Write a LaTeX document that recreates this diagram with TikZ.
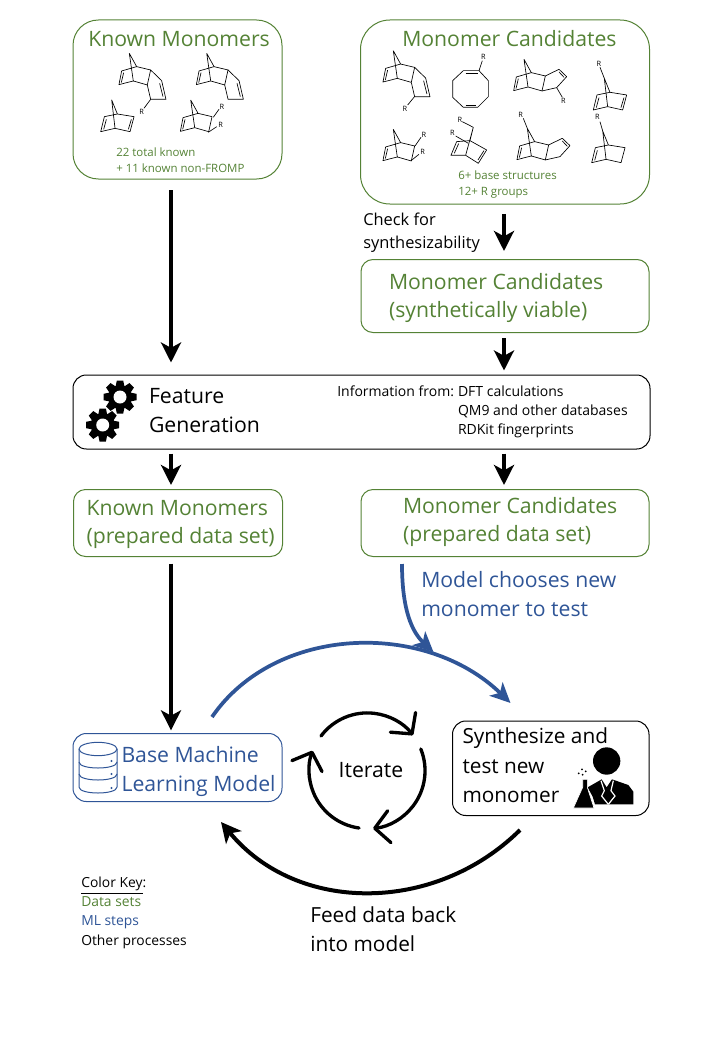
\documentclass[tikz,border=0pt]{standalone}
\usepackage{fontspec}
\setmainfont{Open Sans}
\usetikzlibrary{arrows.meta}

\definecolor{datagreen}{HTML}{548235}
\definecolor{mlblue}{HTML}{2F5597}

\newdimen\pxlen
\pxlen=0.75pt

\tikzset{
  textbox/.style 2 args={minimum width=#1*0.75pt, minimum height=#2*0.75pt,
    inner sep=0pt, anchor=north west},
  bigfont/.style={font=\fontsize{15.9}{21.4}\selectfont},
  smallfont/.style={font=\fontsize{8.6}{12}\selectfont},
  greenbox/.style={draw=datagreen, text=datagreen, line width=0.75pt, rounded corners=9pt, bigfont},
  bluebox/.style={draw=mlblue, text=mlblue, line width=0.75pt, rounded corners=10pt, bigfont},
  blackbox/.style={draw=black, line width=0.75pt, rounded corners=10pt, bigfont},
  plaintext/.style={anchor=base west, inner sep=0pt, align=left},
  bigarrow/.style={line width=3pt, -{Stealth[length=15pt,width=15pt,inset=4pt]}},
  bluearrow/.style={draw=mlblue, line width=2.8pt, -{Stealth[length=15pt,width=14pt,inset=4pt]}},
  looparrow/.style={line width=2.5pt, line cap=round, -{Straight Barb[length=11pt,width=24pt,line width=2.5pt,round]}},
  molbond/.style={line width=0.5pt, line join=round},
  molpic/.style={scale=1/3},
  rlabel/.style={inner sep=0pt, font=\fontsize{5.5}{6}\selectfont},
  nbcore/.pic={
    \draw[molbond] (0,0) -- (22,40) -- (64,50) -- (54,95) -- (12,83) -- (0,0);
    \draw[molbond] (22,40) -- (-23,53) -- (-31,94) -- (12,83);
    \draw[molbond] (-17,58) -- (-24,88);
  },
  hexring/.pic={
    \pic[transform shape] {nbcore};
    \draw[molbond] (64,50) -- (97,82) -- (110,138) -- (64,138) -- (54,95);
    \draw[molbond] (91,90) -- (101,130);
  },
  pentring/.pic={
    \pic[transform shape] {nbcore};
    \draw[molbond] (64,50) -- (105,30) -- (128,52) -- (98,85) -- (54,95);
    \draw[molbond] (105,38) -- (120,54);
  },
  nbdiene/.pic={
    \draw[molbond] (17,42) -- (0,0) -- (10,85);
    \draw[molbond] (-22,50) -- (17,42) -- (67,50) -- (55,95) -- (10,85) -- (-33,95) -- cycle;
    \draw[molbond] (-16,58) -- (-24,88);
    \draw[molbond] (59,58) -- (50,88);
  },
  nbene/.pic={
    \draw[molbond] (17,42) -- (0,0) -- (10,85);
    \draw[molbond] (-22,50) -- (17,42) -- (67,50) -- (55,95) -- (10,85) -- (-33,95) -- cycle;
    \draw[molbond] (-16,58) -- (-24,88);
  },
  nbtilt/.pic={
    \draw[molbond] (0,0) -- (-10,40) -- (40,68) -- (15,108) -- (-23,84) -- (0,0);
    \draw[molbond] (-10,40) -- (-50,43) -- (-67,84) -- (-23,84);
    \draw[molbond] (-44,49) -- (-57,78);
    \draw[molbond] (32,70) -- (14,98);
  },
  codring/.pic={
    \draw[molbond] (-21.5,-55) -- (25.5,-55) -- (53.5,-25) -- (53.5,23) -- (21.5,55)
      -- (-21.5,55) -- (-53.5,25) -- (-53.5,-25) -- cycle;
    \draw[molbond] (-15,-48) -- (22,-48);
    \draw[molbond] (-15,48) -- (17,48);
  },
  gearicon/.pic={
    \fill circle (12);
    \foreach \a in {0,45,...,315} {
      \fill[rotate=\a] (-4.5,10) -- (4.5,10) -- (3.2,16.5) -- (-3.2,16.5) -- cycle;
    }
    \fill[white] circle (6.5);
  },
  dbicon/.pic={
    \draw[mlblue, line width=0.75pt] (-19,-19) arc[start angle=180, end angle=-180, x radius=14.25pt, y radius=5pt];
    \draw[mlblue, line width=0.75pt] (-19,-19) -- (-19,19) .. controls (-19,27) and (19,27) .. (19,19) -- (19,-19);
    \draw[mlblue, line width=0.75pt] (-19,-6) .. controls (-19,2) and (19,2) .. (19,-6);
    \draw[mlblue, line width=0.75pt] (-19,6) .. controls (-19,14) and (19,14) .. (19,6);
    \foreach \y in {-7,6,20} { \fill[mlblue] (13.5,\y) circle (1.2); }
  },
  chemisticon/.pic={
    \fill (920,183) circle (41);
    \fill (863,262) -- (905,238) -- (920,262) -- (936,238) -- (985,255) -- (1000,275)
      -- (1000,313) -- (885,313) -- (878,290) -- cycle;
    \draw[white, line width=0.9pt] (903,242) -- (913,272) -- (905,288) -- (925,313);
    \draw[white, line width=0.9pt] (940,242) -- (933,272) -- (945,288) -- (925,313);
    \fill[draw=white, line width=0.5pt] (848,238) -- (862,238) -- (862,262) -- (882,324)
      -- (820,324) -- (848,262) -- cycle;
    \foreach \p in {(848,224),(857,214),(846,208),(836,220)} { \fill \p circle (3); }
  },
}

\newcommand{\rsub}[4]{\draw[molbond] #1 -- #2; \node[rlabel] (#4) at #3 {R};}
% box width, left padding, drop and the lines of a box, all lengths in pixels
\newcommand{\boxlines}[4]{\makebox[#1\pxlen][l]{\hspace{#2\pxlen}\raisebox{-#3\pxlen}[\height][\depth]{\begin{tabular}{@{}l@{}}#4\end{tabular}}}}

\begin{document}
\begin{tikzpicture}[x=0.75pt,y=-0.75pt]
\useasboundingbox (0,0) rectangle (720,1056);

%boxes
\node[greenbox, textbox={209}{159}, rounded corners=19pt] (known) at (72.5,19.5) {};
\node[greenbox, textbox={289}{184}, rounded corners=22pt] (candidates) at (360,19.5) {};
\node[greenbox, textbox={288}{73}] (viable) at (360.5,259) {\boxlines{288}{28}{2}{Monomer Candidates\\(synthetically viable)}};
\node[blackbox, textbox={577}{74}] (feature) at (72.5,374.5) {\boxlines{577}{76}{0.5}{Feature\\Generation}};
\node[greenbox, textbox={209}{67}] (knownprep) at (73,489) {\boxlines{209}{13}{1}{Known Monomers\\(prepared data set)}};
\node[greenbox, textbox={288}{67}] (candprep) at (360.5,489) {\boxlines{288}{42}{-1}{Monomer Candidates\\(prepared data set)}};
\node[bluebox, textbox={209}{68}] (base) at (72.5,733) {\boxlines{209}{48.5}{4}{Base Machine\\Learning Model}};
\node[blackbox, textbox={196.5}{94.5}, font=\fontsize{15.6}{22}\selectfont] (synth) at (452,720.5) {\boxlines{196.5}{10}{-1}{Synthesize and\\test new\\monomer}};

%titles and notes
\node[plaintext, bigfont, text=datagreen] (knowntitle) at (88,47) {Known Monomers};
\node[plaintext, bigfont, text=datagreen] (candtitle) at (402,47) {Monomer Candidates};
\node[plaintext, smallfont, text=datagreen] (knownnote) at (116,172) {22 total known\\+ 11 known non-FROMP};
\node[plaintext, smallfont, text=datagreen] (candnote) at (458,195) {6+ base structures\\12+ R groups};
\node[plaintext, font=\fontsize{12.3}{17.2}\selectfont] (check) at (363,248) {Check for\\synthesizability};
\node[plaintext, anchor=west, font=\fontsize{10.5}{14.2}\selectfont] (info) at (337,411.5) {\begin{tabular}{@{}l@{\hspace{3pt}}l@{}}Information from: & DFT calculations\\ & QM9 and other databases\\ & RDKit fingerprints\end{tabular}};
\node[plaintext, bigfont, text=mlblue] (chooses) at (421,616.5) {Model chooses new\\monomer to test};
\node[anchor=center, inner sep=0pt, bigfont] (iterate) at (371,770) {Iterate};
\node[plaintext, font=\fontsize{15.6}{21.6}\selectfont] (feedback) at (310,951) {Feed data back\\into model};
\node[plaintext, font=\fontsize{10.4}{14.3}\selectfont] (colorkey) at (81,945) {\underline{Color Key}:\\\textcolor{datagreen}{Data sets}\\\textcolor{mlblue}{ML steps}\\Other processes};

%straight arrows
\coordinate (leftx) at (171,0);
\coordinate (rightx) at (504,0);
\draw[bigarrow, shorten <=8pt, shorten >=9pt] (leftx |- known.south) -- (leftx |- feature.north);
\draw[bigarrow, shorten <=7pt, shorten >=6pt] (rightx |- candidates.south) -- (rightx |- viable.north);
\draw[bigarrow, shorten <=4pt, shorten >=3pt] (rightx |- viable.south) -- (rightx |- feature.north);
\draw[bigarrow, shorten <=3pt, shorten >=3pt] (leftx |- feature.south) -- (leftx |- knownprep.north);
\draw[bigarrow, shorten <=3pt, shorten >=3pt] (rightx |- feature.south) -- (rightx |- candprep.north);
\draw[bigarrow, shorten <=5pt, shorten >=2pt] (leftx |- knownprep.south) -- (leftx |- base.north);

%curved arrows
\coordinate (choosestart) at (402,564);
\coordinate (choosetip) at (433.5,652);
\coordinate (loopstart) at (212,717);
\coordinate (looptip) at (510.5,703);
\coordinate (backstart) at (520,830);
\coordinate (backtip) at (221,822);
\draw[bluearrow] (loopstart) .. controls (275,625) and (425,620) .. (looptip);
\draw[bluearrow] (choosestart) .. controls (402,610) and (412,632) .. (choosetip);
\draw[bigarrow, line width=3pt] (backstart) .. controls (435,914) and (297,914) .. (backtip);

%iterate circle
\coordinate (itera) at (321,736);
\coordinate (iterb) at (420.8,749);
\coordinate (iterc) at (359,828);
\draw[looparrow] (itera) arc[start angle=143, end angle=38, radius=43.5pt];
\draw[looparrow] (iterb) arc[start angle=22, end angle=-84, radius=43.5pt];
\draw[looparrow] (iterc) arc[start angle=-98, end angle=-200, radius=43.5pt];

%icons
\pic (gearone) at (120,397) {gearicon};
\pic (geartwo) at (102.7,425) {gearicon};
\pic (dbase) at (98,768) {dbicon};
\pic[molpic] (chemist) at (300,700) {chemisticon};

%monomers
\pic[molpic] at (129.3,53.3) {hexring};
\pic[molpic] at (206.7,53.3) {hexring};
\pic[molpic] at (111.7,100) {nbdiene};
\pic[molpic] at (190.7,100) {nbcore};
\pic[molpic] at (393.3,50.7) {hexring};
\pic[molpic] at (470.5,89) {codring};
\pic[molpic] at (524,59.3) {pentring};
\pic[molpic] at (604.3,78.3) {nbdiene};
\pic[molpic] at (393.3,129.3) {nbcore};
\pic[molpic] at (473.3,127.3) {nbtilt};
\pic[molpic] at (527.3,128.3) {pentring};
\pic[molpic] at (602.7,131) {nbene};

\rsub{(150.7,99.3)}{(144,108.3)}{(141.7,111.7)}{rone}
\rsub{(213.3,117.3)}{(219,109.3)}{(222,106.7)}{rtwo}
\rsub{(208.3,132.3)}{(216.7,126.7)}{(220.7,125)}{rthree}
\rsub{(415,96)}{(407.7,105)}{(405,109)}{rfour}
\rsub{(479,70.7)}{(482.3,60.7)}{(483.3,56.7)}{rfive}
\rsub{(556.7,87.7)}{(562.3,97.3)}{(563.3,101)}{rsix}
\rsub{(604.3,78.3)}{(600,67.3)}{(599,64)}{rseven}
\rsub{(415,146)}{(421,137.3)}{(424,134.7)}{reight}
\rsub{(411,160.7)}{(419,154.3)}{(422.7,152)}{rnine}
\rsub{(473.3,127.3)}{(462.3,121.7)}{(460,120)}{rten}
\rsub{(468.3,143.3)}{(455.7,136)}{(452.3,133.3)}{releven}
\rsub{(527.3,128.3)}{(523.3,118.3)}{(520.7,115)}{rtwelve}
\rsub{(602.7,131)}{(600,121.7)}{(597.3,116.7)}{rthirteen}
\end{tikzpicture}
\end{document}
